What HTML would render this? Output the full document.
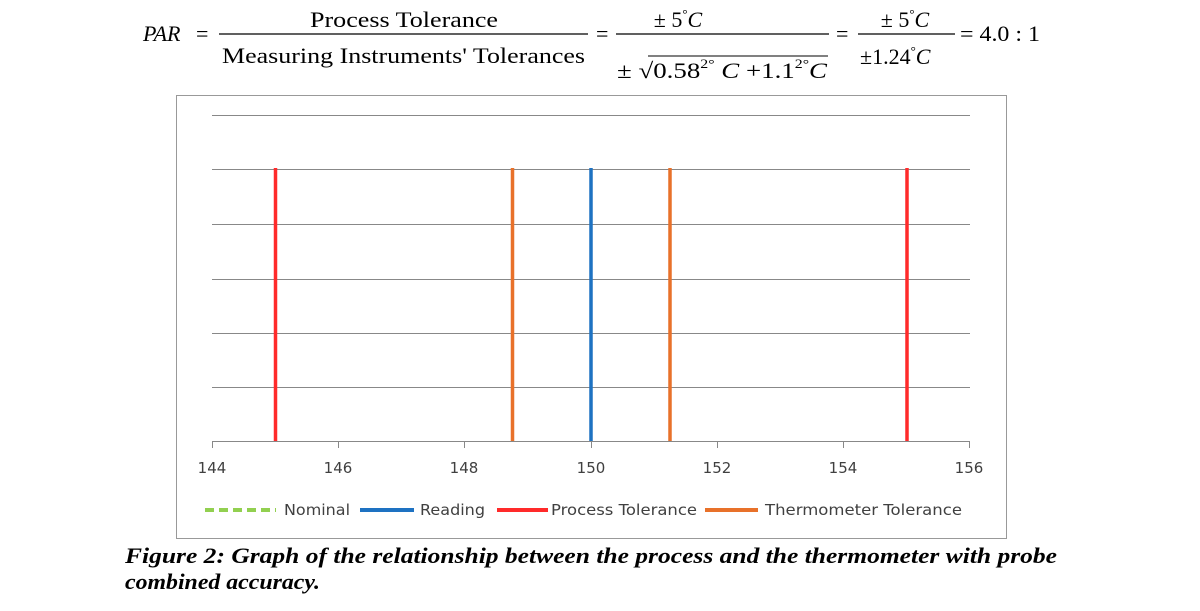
<!DOCTYPE html>
<html><head><meta charset="utf-8"><style>
body{margin:0;background:#fff;width:1200px;height:611px;overflow:hidden;position:relative}
svg{position:absolute;left:0;top:0}
</style></head><body>
<svg width="1200" height="611" xmlns="http://www.w3.org/2000/svg">
<g font-family="Liberation Serif, serif" font-size="22" fill="#000">
<text x="143" y="41" font-style="italic">PAR</text>
<text x="196" y="41">=</text>
<text x="310" y="27" textLength="188" lengthAdjust="spacingAndGlyphs">Process Tolerance</text>
<line x1="219" y1="34" x2="588" y2="34" stroke="#000" stroke-width="1.3"/>
<text x="222" y="63" textLength="363" lengthAdjust="spacingAndGlyphs">Measuring Instruments' Tolerances</text>
<text x="596" y="41">=</text>
<text x="678" y="27" text-anchor="middle">± 5<tspan font-size="13" dy="-9">°</tspan><tspan dy="9" font-style="italic">C</tspan></text>
<line x1="616" y1="34" x2="829" y2="34" stroke="#000" stroke-width="1.3"/>
<text x="617" y="78" textLength="210" lengthAdjust="spacingAndGlyphs">± √0.58<tspan font-size="13" dy="-10">2°</tspan><tspan dy="10" font-style="italic"> C</tspan> +1.1<tspan font-size="13" dy="-10">2°</tspan><tspan dy="10" font-style="italic">C</tspan></text>
<line x1="648" y1="56" x2="828" y2="56" stroke="#000" stroke-width="1"/>
<text x="836" y="41">=</text>
<text x="905" y="27" text-anchor="middle">± 5<tspan font-size="13" dy="-9">°</tspan><tspan dy="9" font-style="italic">C</tspan></text>
<line x1="858" y1="34" x2="955" y2="34" stroke="#000" stroke-width="1.3"/>
<text x="860" y="64">±1.24<tspan font-size="13" dy="-9">°</tspan><tspan dy="9" font-style="italic">C</tspan></text>
<text x="960" y="41" textLength="80" lengthAdjust="spacingAndGlyphs">= 4.0 : 1</text>
</g>
<rect x="176.5" y="95.5" width="830" height="443" fill="#fff" stroke="#999" stroke-width="1"/>
<g stroke="#888" stroke-width="1">
<line x1="212" y1="115.5" x2="970" y2="115.5"/>
<line x1="212" y1="169.5" x2="970" y2="169.5"/>
<line x1="212" y1="224.5" x2="970" y2="224.5"/>
<line x1="212" y1="279.5" x2="970" y2="279.5"/>
<line x1="212" y1="333.5" x2="970" y2="333.5"/>
<line x1="212" y1="387.5" x2="970" y2="387.5"/>
<line x1="212" y1="441.5" x2="970" y2="441.5"/>
<line x1="212.5" y1="441" x2="212.5" y2="448"/>
<line x1="338.5" y1="441" x2="338.5" y2="448"/>
<line x1="464.5" y1="441" x2="464.5" y2="448"/>
<line x1="591.5" y1="441" x2="591.5" y2="448"/>
<line x1="717.5" y1="441" x2="717.5" y2="448"/>
<line x1="843.5" y1="441" x2="843.5" y2="448"/>
<line x1="969.5" y1="441" x2="969.5" y2="448"/>
</g>
<g stroke-width="3.5">
<line x1="275.5" y1="168" x2="275.5" y2="441" stroke="#ff2a2a"/>
<line x1="907" y1="168" x2="907" y2="441" stroke="#ff2a2a"/>
<line x1="512.5" y1="168" x2="512.5" y2="441" stroke="#e8712a"/>
<line x1="670" y1="168" x2="670" y2="441" stroke="#e8712a"/>
<line x1="591" y1="168" x2="591" y2="441" stroke="#1e72c2"/>
</g>
<g font-family="DejaVu Sans, sans-serif" font-size="15" fill="#404040" text-anchor="middle">
<text x="212" y="473">144</text><text x="338" y="473">146</text><text x="464" y="473">148</text>
<text x="591" y="473">150</text><text x="717" y="473">152</text><text x="843" y="473">154</text><text x="969" y="473">156</text>
</g>
<g stroke-width="4">
<line x1="205" y1="510" x2="276" y2="510" stroke="#92d050" stroke-dasharray="9,5"/>
<line x1="360" y1="510" x2="414" y2="510" stroke="#1e72c2"/>
<line x1="497" y1="510" x2="548" y2="510" stroke="#ff2a2a"/>
<line x1="705" y1="510" x2="758" y2="510" stroke="#e8712a"/>
</g>
<g font-family="DejaVu Sans, sans-serif" font-size="15" fill="#404040">
<text x="284" y="515" textLength="66" lengthAdjust="spacingAndGlyphs">Nominal</text>
<text x="420" y="515" textLength="65" lengthAdjust="spacingAndGlyphs">Reading</text>
<text x="551" y="515" textLength="146" lengthAdjust="spacingAndGlyphs">Process Tolerance</text>
<text x="765" y="515" textLength="197" lengthAdjust="spacingAndGlyphs">Thermometer Tolerance</text>
</g>
<g font-family="Liberation Serif, serif" font-size="22" font-weight="bold" font-style="italic" fill="#000">
<text x="125" y="563" textLength="932" lengthAdjust="spacingAndGlyphs">Figure 2: Graph of the relationship between the process and the thermometer with probe</text>
<text x="125" y="589" textLength="195" lengthAdjust="spacingAndGlyphs">combined accuracy.</text>
</g>
</svg>
</body></html>
